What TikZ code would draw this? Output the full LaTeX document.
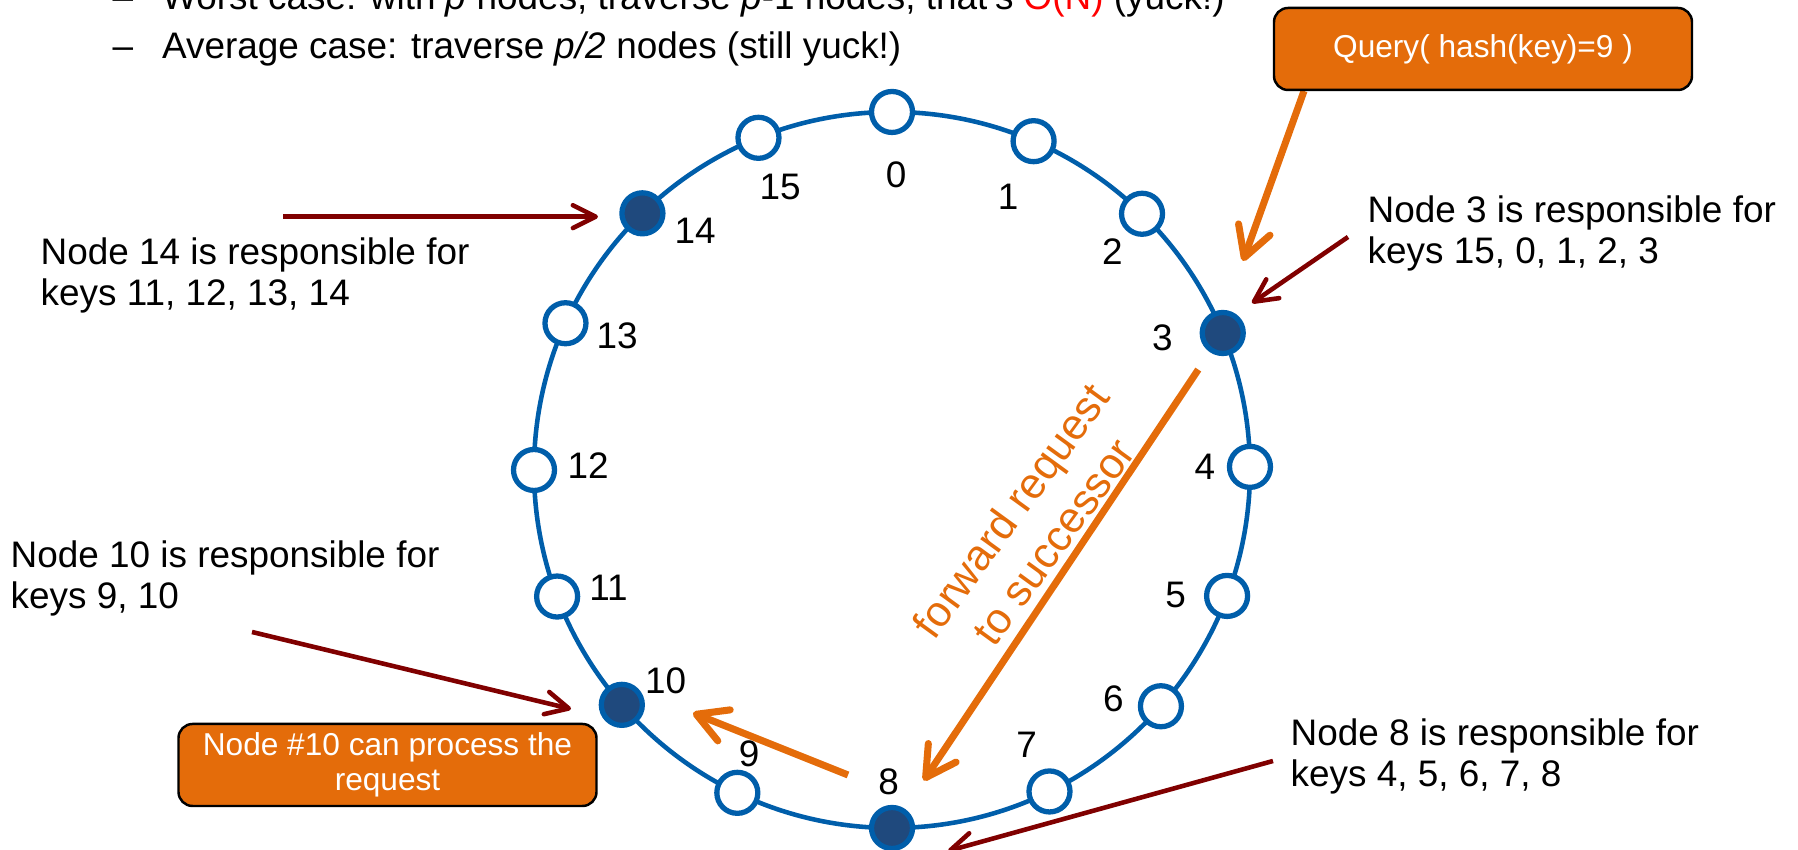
\documentclass[tikz,border=0pt]{standalone}
\usepackage{fontspec}
\setmainfont{Liberation Sans}
\usepackage{xcolor}
\usetikzlibrary{arrows.meta}
\definecolor{RingBlue}{RGB}{0,94,170}
\definecolor{HeldNavy}{RGB}{31,73,125}
\definecolor{QueryOrange}{RGB}{228,108,10}
\definecolor{OwnerRed}{RGB}{128,0,0}
\tikzset{
  ringnode/.style={circle, draw=RingBlue, line width=1.5pt, fill=white, minimum size=0.41cm, inner sep=0pt},
  heldnode/.style={ringnode, fill=HeldNavy},
  keylabel/.style={font=\fontsize{10.5}{12}\selectfont, inner sep=0pt},
  ownertext/.style={font=\fontsize{10.5}{11.7}\selectfont, align=left, anchor=north west, inner sep=0pt},
  ownerarrow/.style={draw=OwnerRed, line width=1.3pt, -{Straight Barb[length=6.5pt,width=6.5pt,round]}},
  hoparrow/.style={draw=QueryOrange, line width=2pt, -{Straight Barb[length=8.5pt,width=9.5pt,round]}},
  callout/.style={draw=black, line width=0.7pt, fill=QueryOrange, rounded corners=4pt, text=white,
    font=\fontsize{9}{10}\selectfont, align=center, inner sep=1pt, minimum width=4.18cm, minimum height=0.82cm}
}

\begin{document}
\begin{tikzpicture}
  \clip (0,0) rectangle (17.98,8.5);
  \node[anchor=base west, inner sep=0pt, font=\fontsize{10.5}{12}\selectfont] (worst) at (1.12,8.40)
    {\textendash\hspace{0.29cm}Worst case: with \textit{p} nodes, traverse \textit{p}-1 nodes, that's \textcolor{red}{O(N)} (yuck!)};
  \node[anchor=base west, inner sep=0pt, font=\fontsize{10.5}{12}\selectfont] (avg) at (1.12,7.917)
    {\textendash\hspace{0.29cm}Average case: traverse \textit{p/2} nodes (still yuck!)};

  % ring of 16 key slots
  \begin{scope}[shift={(8.92,3.80)}]
    \draw[RingBlue, line width=1.3pt] (0,0) circle (3.58);
    \foreach \n/\la/\lr in {0/89.2/2.95, 1/67/2.97, 2/44.7/3.10, 3/26.1/3.01, 4/0.5/3.13, 5/-23.8/3.10,
        6/-45.9/3.18, 7/-63.9/3.06, 8/-90.6/3.12, 9/-116.7/3.18, 10/-137.1/3.09, 11/-157.4/3.07,
        12/179.2/3.04, 13/153.9/3.06, 14/129.4/3.10, 15/111.6/3.04}
      \node[keylabel] (l\n) at (\la:\lr) {\n};
    \foreach \n/\a in {0/90, 1/66.7, 2/45.7, 4/0.5, 5/-20.6, 6/-41.3, 7/-63.9, 9/-115.6,
        11/-159.3, 12/180, 13/155.8, 15/111.9}
      \node[ringnode] (n\n) at (\a:3.58) {};
    \foreach \n/\a in {3/22.5, 8/-90, 10/-139, 14/134.2}
      \node[heldnode] (n\n) at (\a:3.58) {};
  \end{scope}

  \node[ownertext] (own14) at (0.40,6.133) {Node 14 is responsible for\\keys 11, 12, 13, 14};
  \node[ownertext] (own10) at (0.10,3.10) {Node 10 is responsible for\\keys 9, 10};
  \node[ownertext] (own3) at (13.67,6.55) {Node 3 is responsible for\\keys 15, 0, 1, 2, 3};
  \node[ownertext] (own8) at (12.90,1.32) {Node 8 is responsible for\\keys 4, 5, 6, 7, 8};

  \coordinate (from14) at (2.83,6.333);
  \coordinate (to14) at (5.98,6.333);
  \coordinate (from3) at (13.48,6.13);
  \coordinate (to3) at (12.52,5.47);
  \coordinate (from10) at (2.52,2.18);
  \coordinate (to10) at (5.71,1.41);
  \coordinate (from8) at (12.73,0.89);
  \coordinate (to8) at (9.48,-0.01);
  \draw[ownerarrow] (from14) -- (to14);
  \draw[ownerarrow] (from3) -- (to3);
  \draw[ownerarrow] (from10) -- (to10);
  \draw[ownerarrow] (from8) -- (to8);

  % lookup path
  \coordinate (qtip) at (12.43,5.89);
  \coordinate (backfrom) at (8.48,0.75);
  \coordinate (backto) at (6.93,1.37);
  \draw[hoparrow] (13.04,7.59) -- (qtip);
  \node[callout] (query) at (14.83,8.01) {Query( hash(key)=9 )};
  \draw[hoparrow, shorten <=0.44cm, shorten >=0.57cm] (n3.center) -- (n8.center);
  \node[text=QueryOrange, rotate=54, align=center, inner sep=0pt, font=\fontsize{12.3}{15}\selectfont] (fwd) at (10.32,3.24)
    {forward request\\to successor};
  \draw[hoparrow] (backfrom) -- (backto);
  \node[callout] (done) at (3.875,0.85) {Node \#10 can process the\\request};
\end{tikzpicture}
\end{document}
